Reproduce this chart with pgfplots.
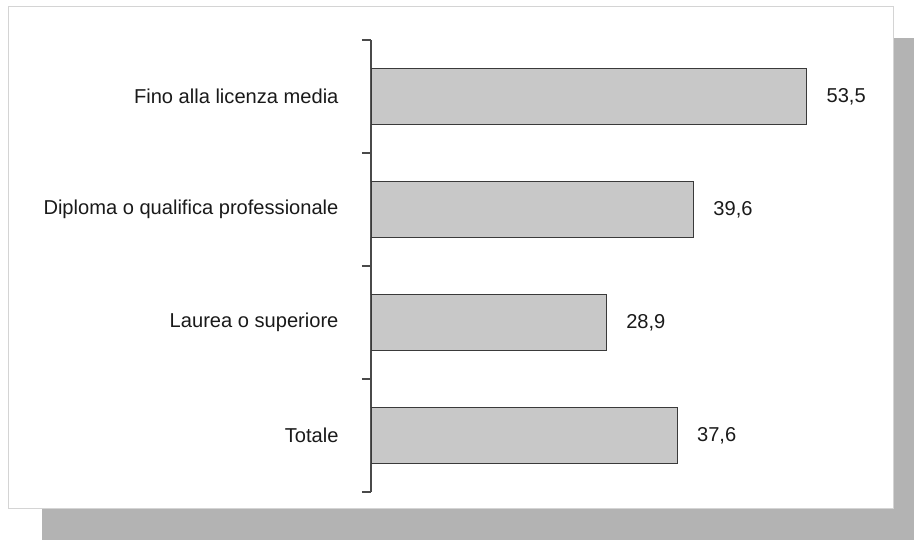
\documentclass[border=0pt]{standalone}
\usepackage{fontspec}
\setmainfont{Liberation Sans}
\usepackage{pgfplots}
\pgfplotsset{compat=1.18}

\definecolor{shadowgray}{HTML}{B3B3B3}
\definecolor{framegray}{HTML}{D4D4D4}
\definecolor{barfill}{HTML}{C8C8C8}
\definecolor{barline}{HTML}{3A3A3A}
\definecolor{axisgray}{HTML}{4A4A4A}
\definecolor{txt}{HTML}{1A1A1A}

\begin{document}
\begin{tikzpicture}[x=1pt,y=1pt]
\useasboundingbox (0,0) rectangle (914,-540);
% shadow and white frame
\fill[shadowgray] (42,-38) rectangle (914,-540);
\filldraw[fill=white, draw=framegray, line width=1pt] (8,-7) rectangle (893,-508);
\begin{axis}[
  at={(371pt,-492pt)}, anchor=south west,
  scale only axis, width=488.6pt, height=452pt,
  xbar, bar width=56pt,
  xmin=0, xmax=60, ymin=-0.5, ymax=3.5,
  axis x line=none, axis y line*=left,
  axis line style={draw=axisgray, line width=1.2pt},
  ytick={0,1,2,3},
  yticklabels={Totale, Laurea o superiore, Diploma o qualifica professionale, Fino alla licenza media},
  minor ytick={-0.5,0.5,1.5,2.5,3.5},
  major tick length=0pt, minor tick length=9pt,
  tick align=outside,
  tick style={draw=axisgray, line width=1.2pt},
  yticklabel style={font=\fontsize{20.1}{24}\selectfont, text=txt, anchor=east, xshift=-29pt},
  nodes near coords,
  nodes near coords style={font=\fontsize{20.1}{24}\selectfont, text=txt, xshift=16pt},
  /pgf/number format/.cd, use comma, fixed, fixed zerofill, precision=1, assume math mode=true,
]
\addplot[fill=barfill, draw=barline, line width=1.2pt] coordinates {
  (37.6,0)
  (28.9,1)
  (39.6,2)
  (53.5,3)
};
\end{axis}
\end{tikzpicture}
\end{document}
